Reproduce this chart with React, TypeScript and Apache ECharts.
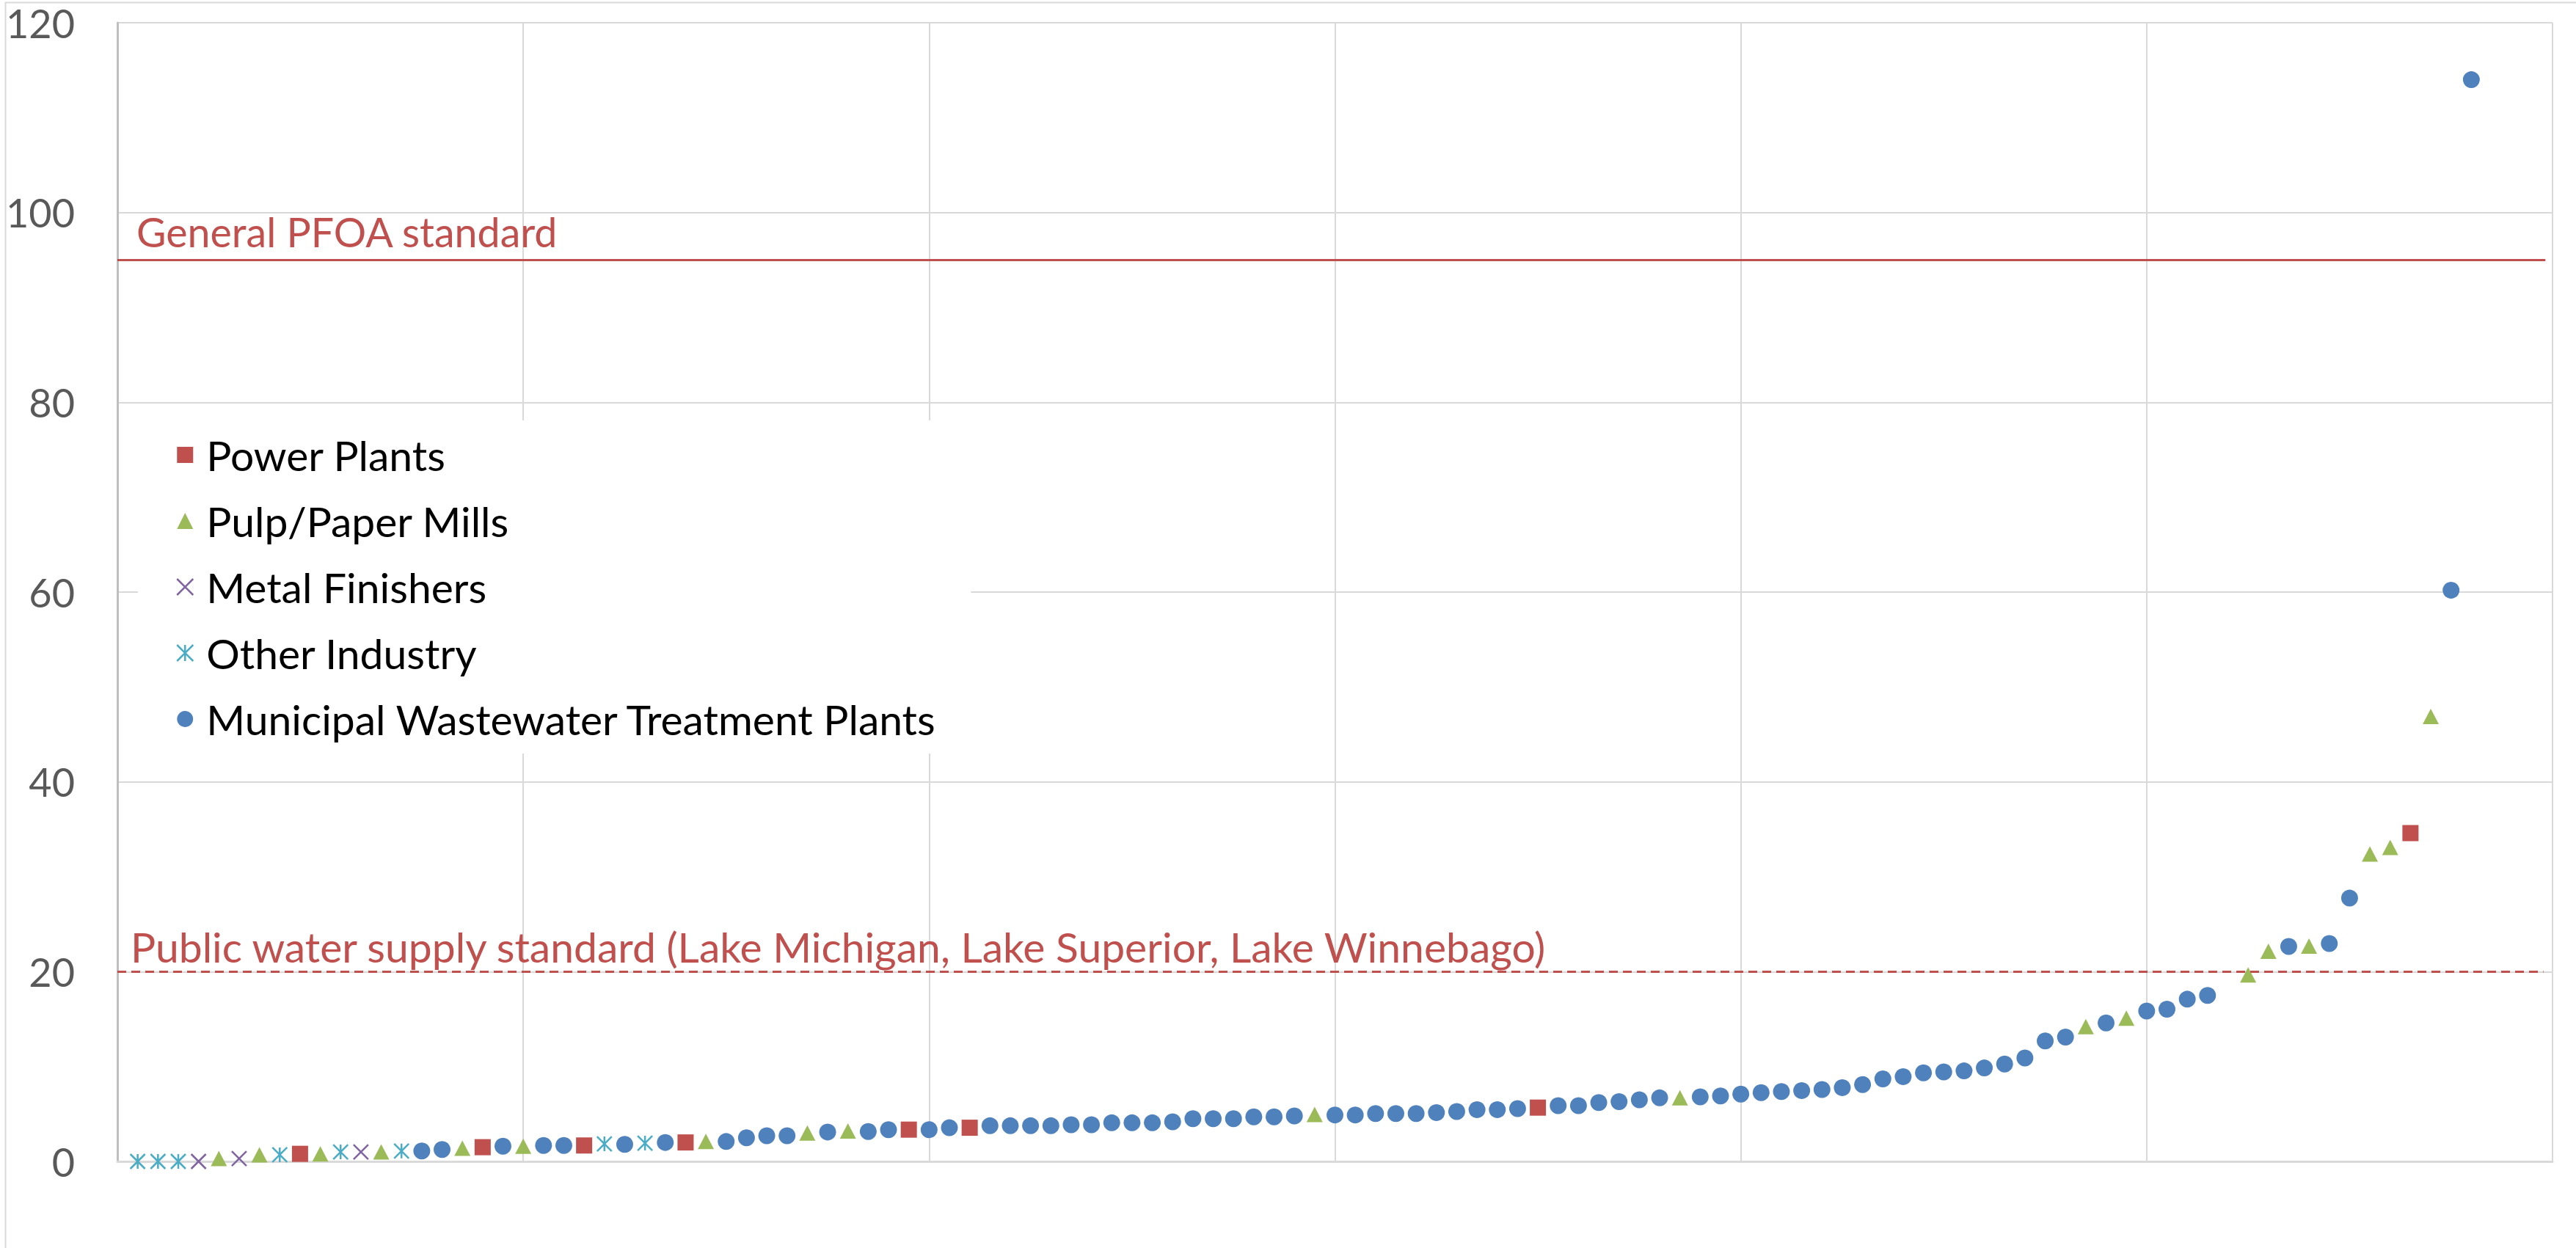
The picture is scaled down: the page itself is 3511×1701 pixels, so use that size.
import React, { useEffect, useRef } from "react";
import * as echarts from "echarts";

// ---- data (x = rank position, y = PFOA concentration) ----
const powerX = [9, 18, 23, 28, 39, 42, 70, 113];
const powerY = [0.8, 1.5, 1.68, 2.0, 3.35, 3.55, 5.67, 34.6];

const pulpX = [5, 7, 10, 13, 17, 20, 29, 34, 36, 59, 77, 97, 99, 105, 106, 108, 111, 112, 114];
const pulpY = [0.3, 0.7, 0.8, 1.0, 1.4, 1.6, 2.1, 3.0, 3.2, 4.95, 6.7, 14.2, 15.1, 19.66, 22.15, 22.7, 32.4, 33.1, 46.9];

const metalX = [4, 6, 12];
const metalY = [0, 0.3, 1.0];

const otherX = [1, 2, 3, 8, 11, 14, 24, 26];
const otherY = [0, 0, 0, 0.7, 1.0, 1.1, 1.85, 1.93];

const muniX = [
  15, 16, 19, 21, 22, 25, 27, 30, 31, 32, 33, 35, 37, 38, 40, 41, 43, 44, 45, 46,
  47, 48, 49, 50, 51, 52, 53, 54, 55, 56, 57, 58, 60, 61, 62, 63, 64, 65, 66, 67,
  68, 69, 71, 72, 73, 74, 75, 76, 78, 79, 80, 81, 82, 83, 84, 85, 86, 87, 88, 89,
  90, 91, 92, 93, 94, 95, 96, 98, 100, 101, 102, 103, 107, 109, 110, 115, 116,
];
const muniY = [
  1.1, 1.25, 1.6, 1.68, 1.68, 1.8, 2.0, 2.1, 2.5, 2.7, 2.7, 3.1, 3.15, 3.35, 3.35, 3.55, 3.76, 3.76, 3.76, 3.76,
  3.87, 3.87, 4.07, 4.07, 4.07, 4.17, 4.5, 4.5, 4.5, 4.7, 4.7, 4.8, 4.9, 4.9, 5.05, 5.05, 5.05, 5.15, 5.26, 5.46,
  5.46, 5.57, 5.88, 5.88, 6.2, 6.3, 6.5, 6.7, 6.8, 6.9, 7.1, 7.25, 7.37, 7.47, 7.58, 7.78, 8.1, 8.7, 8.94, 9.33,
  9.43, 9.54, 9.85, 10.26, 10.9, 12.7, 13.1, 14.6, 15.85, 16.05, 17.1, 17.5, 22.66, 22.97, 27.75, 60.2, 114.0,
];

const seriesNames = [
  "Power Plants",
  "Pulp/Paper Mills",
  "Metal Finishers",
  "Other Industry",
  "Municipal Wastewater Treatment Plants",
];

const yTicks = [0, 20, 40, 60, 80, 100, 120];

const generalStandard = 95;
const generalLabel = "General PFOA standard";
const publicStandard = 20;
const publicLabel = "Public water supply standard (Lake Michigan, Lake Superior, Lake Winnebago)";

const FONT = "Lato, 'Open Sans', sans-serif";
const RED = "#C0504D";
const X_PATH = "path://M0,0L10,10M10,0L0,10";
const STAR_PATH = "path://M0,0L10,10M10,0L0,10M5,0L5,10";

const pair = (xs: number[], ys: number[]) => xs.map((x, i) => [x, ys[i]]);

export default function App() {
  const ref = useRef<HTMLDivElement>(null);
  useEffect(() => {
    const chart = echarts.init(ref.current!, null, { renderer: "svg" });
    const option: any = {
      animation: false,
      backgroundColor: "#ffffff",
      grid: { left: 160, right: 32, top: 31, bottom: 118, containLabel: false },
      xAxis: {
        type: "value",
        min: 0,
        max: 120,
        interval: 20,
        axisLabel: { show: false },
        axisTick: { show: false },
        axisLine: { show: true, lineStyle: { color: "#D9D9D9", width: 3 } },
        splitLine: { show: true, lineStyle: { color: "#D9D9D9", width: 2 } },
      },
      yAxis: {
        type: "value",
        min: yTicks[0],
        max: yTicks[yTicks.length - 1],
        interval: 20,
        axisTick: { show: false },
        axisLine: { show: true, lineStyle: { color: "#BFBFBF", width: 3 } },
        axisLabel: { color: "#595959", fontSize: 54, fontFamily: FONT, margin: 58 },
        splitLine: { show: true, lineStyle: { color: "#D9D9D9", width: 2 } },
      },
      legend: {
        orient: "vertical",
        left: 188,
        top: 573,
        backgroundColor: "#ffffff",
        padding: [17, 45, 17, 52],
        itemWidth: 22,
        itemHeight: 22,
        itemGap: 30,
        selectedMode: false,
        textStyle: { fontFamily: FONT, fontSize: 57, color: "#000000", lineHeight: 60, padding: [0, 0, 0, 13] },
        data: [
          { name: seriesNames[0] },
          { name: seriesNames[1] },
          { name: seriesNames[2], itemStyle: { color: "#8064A2", borderColor: "#8064A2", borderWidth: 2.5 } },
          { name: seriesNames[3], itemStyle: { color: "#4BACC6", borderColor: "#4BACC6", borderWidth: 2.5 } },
          { name: seriesNames[4] },
        ],
      },
      graphic: [
        {
          type: "rect",
          left: 5,
          top: 1,
          shape: { width: 5000, height: 5000 },
          style: { fill: "none", stroke: "#D9D9D9", lineWidth: 2 },
          silent: true,
          z: -10,
        },
      ],
      series: [
        {
          name: seriesNames[0],
          type: "scatter",
          symbol: "rect",
          symbolSize: 22,
          itemStyle: { color: RED, opacity: 1 },
          data: pair(powerX, powerY),
          z: 3,
        },
        {
          name: seriesNames[1],
          type: "scatter",
          symbol: "triangle",
          symbolSize: [22, 21],
          itemStyle: { color: "#9BBB59", opacity: 1 },
          data: pair(pulpX, pulpY),
          z: 3,
        },
        {
          name: seriesNames[2],
          type: "scatter",
          symbol: X_PATH,
          symbolSize: 20,
          itemStyle: { color: "#8064A2", borderColor: "#8064A2", borderWidth: 2.5, opacity: 1 },
          data: pair(metalX, metalY),
          z: 3,
        },
        {
          name: seriesNames[3],
          type: "scatter",
          symbol: STAR_PATH,
          symbolSize: 20,
          itemStyle: { color: "#4BACC6", borderColor: "#4BACC6", borderWidth: 2.5, opacity: 1 },
          data: pair(otherX, otherY),
          z: 3,
        },
        {
          name: seriesNames[4],
          type: "scatter",
          symbol: "circle",
          symbolSize: 23,
          itemStyle: { color: "#4F81BD", opacity: 1 },
          data: pair(muniX, muniY),
          z: 3,
          markLine: {
            silent: true,
            symbol: ["none", "none"],
            animation: false,
            data: [
              [
                {
                  coord: [0, generalStandard],
                  lineStyle: { color: RED, width: 3, type: "solid", opacity: 1 },
                  label: {
                    show: true,
                    position: "insideStartTop",
                    formatter: generalLabel,
                    color: RED,
                    fontSize: 55.5,
                    fontFamily: FONT,
                    lineHeight: 56,
                    distance: [26, 11],
                  },
                },
                { coord: [119.65, generalStandard] },
              ],
              [
                {
                  coord: [0, publicStandard],
                  lineStyle: { color: RED, width: 3, type: [12, 7], opacity: 1 },
                  label: {
                    show: true,
                    position: "insideStartTop",
                    formatter: publicLabel,
                    color: RED,
                    fontSize: 57,
                    fontFamily: FONT,
                    lineHeight: 56,
                    distance: [18, 6],
                  },
                },
                { coord: [119.55, publicStandard] },
              ],
            ],
          },
        },
      ],
    };
    chart.setOption(option);
    return () => chart.dispose();
  }, []);
  return (
    <div
      ref={ref}
      style={{ position: "absolute", left: 0, top: 0, width: 3511, height: 1701, background: "#fff" }}
    />
  );
}
